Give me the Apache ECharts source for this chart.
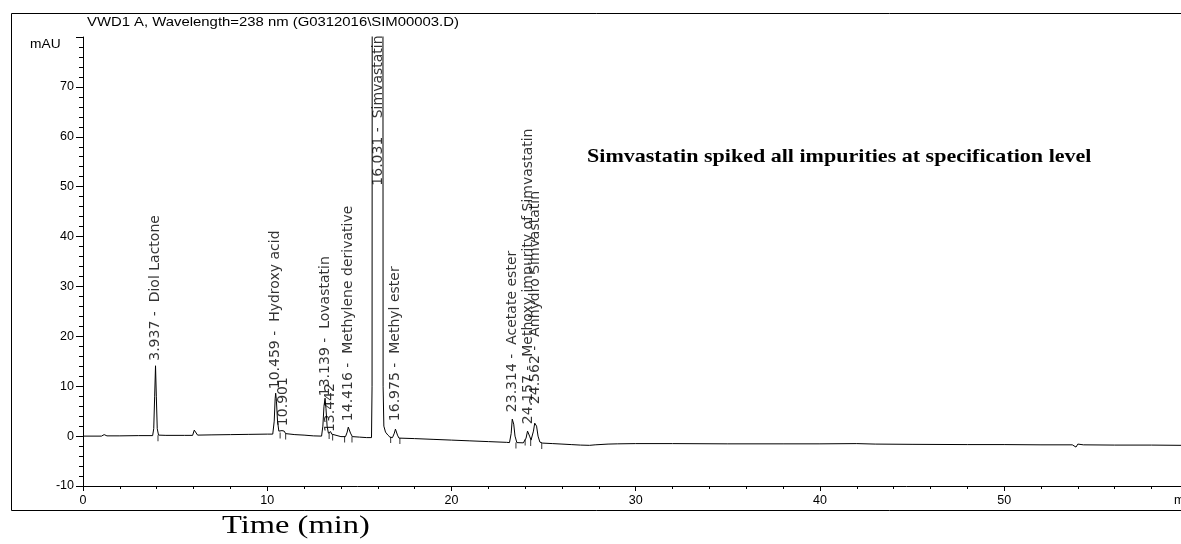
<!DOCTYPE html>
<html><head><meta charset="utf-8">
<script src="https://cdn.jsdelivr.net/npm/echarts@6/dist/echarts.min.js"></script>
<style>html,body{margin:0;padding:0;background:#fff}#c{width:1181px;height:544px}</style>
</head><body><div id="c"></div>
<script>
// Chromatogram trace: [time (min), signal (mAU)]
const trace = [
  [0,0.0],[1.0,0.0],[1.15,0.3],[1.3,0.05],[2,0.05],[3,0.1],[3.78,0.1],
  [3.84,1.5],[3.89,8],[3.937,14.1],[3.98,8],[4.03,1.5],[4.10,0.2],[4.5,0.15],
  [5.5,0.15],[5.95,0.15],[6.04,1.2],[6.08,1.6],[6.13,0.8],[6.22,0.2],
  [7,0.25],[8,0.3],[9,0.35],[10,0.4],[10.30,0.4],
  [10.38,3],[10.43,7.5],[10.459,8.6],[10.50,7],[10.56,3],[10.63,1.0],[10.70,0.7],
  [10.80,1.1],[10.86,1.2],[10.92,1.0],[11.0,0.5],[11.1,0.35],
  [11.5,0.3],[12,0.2],[12.5,0.05],[12.95,0.0],
  [13.02,2],[13.08,6],[13.139,7.6],[13.19,5.5],[13.25,2],[13.32,0.6],[13.40,0.8],
  [13.44,0.9],[13.5,0.4],[13.6,0.0],[14.0,-0.1],[14.25,-0.1],
  [14.34,0.8],[14.40,1.8],[14.45,1.6],[14.52,0.6],[14.62,-0.1],
  [15.0,-0.2],[15.4,-0.3],[15.66,-0.3],[15.69,10],[15.70,100],[16.0,300],
  [16.28,100],[16.29,10],[16.33,2],[16.42,0.8],[16.55,0.2],[16.66,-0.2],
  [16.80,-0.3],[16.90,0.6],[16.96,1.4],[17.0,1.2],[17.07,0.2],[17.15,-0.4],
  [18,-0.5],[19,-0.65],[20,-0.8],[21,-0.95],[22,-1.1],[23,-1.25],[23.15,-1.3],
  [23.24,0.5],[23.30,3.4],[23.33,3.6],[23.38,2.4],[23.45,0],[23.55,-1.3],[23.9,-1.35],
  [24.05,-0.4],[24.13,1.0],[24.17,1.2],[24.24,0.0],[24.32,-0.8],
  [24.45,1.0],[24.52,2.6],[24.562,3.0],[24.62,2.0],[24.70,0],[24.80,-1.2],[24.95,-1.4],
  [25.5,-1.5],[26,-1.6],[26.5,-1.7],[27,-1.8],[27.5,-1.85],[27.8,-1.75],[28.5,-1.6],
  [29,-1.55],[30,-1.5],[32,-1.5],[35,-1.55],[38,-1.55],[40,-1.55],[42,-1.5],[43,-1.6],
  [45,-1.65],[48,-1.7],[50,-1.7],[52,-1.75],[53.7,-1.75],[53.9,-2.2],[54.0,-1.6],
  [54.3,-1.75],[56,-1.8],[58,-1.8],[59.6,-1.85]
];
// Peak annotations
const peakNames = [
  '3.937 -  Diol Lactone','10.459 -  Hydroxy acid','10.901','13.139 -  Lovastatin','13.442',
  '14.416 -  Methylene derivative','16.031 -  Simvastatin','16.975 -  Methyl ester',
  '23.314 -  Acetate ester','24.157 -  Methoxy impurity of Simvastatin','24.562 -  Anhydro Simvastatin'
];
const peakTimes = [3.937,10.459,10.901,13.139,13.442,14.416,16.031,16.975,23.314,24.157,24.562];
const labelBase = [14.9,9.2,1.8,7.8,0.6,2.8,50,2.8,4.6,2.2,6.2];
// Integration boundary marks
const markTimes = [4.07,10.7,11.0,13.36,13.55,14.2,14.6,16.7,17.2,23.5,24.0,24.3,24.9];
const markLevels = [0.15,0.7,0.5,0.6,0.3,-0.1,-0.1,-0.2,-0.4,-1.3,-0.7,-0.8,-1.4];
const xTickValues = [0,10,20,30,40,50];
const yTickValues = [-10,0,10,20,30,40,50,60,70];

const chart = echarts.init(document.getElementById('c'));
chart.setOption({
  animation:false,
  backgroundColor:'#fff',
  grid:{left:83,top:37,right:0,bottom:58,containLabel:false},
  xAxis:{type:'value',min:0,max:59.6,interval:10,
    axisLine:{onZero:false,lineStyle:{color:'#000',width:1}},
    axisTick:{length:5,lineStyle:{color:'#000'}},
    minorTick:{show:true,splitNumber:5,length:3,lineStyle:{color:'#000'}},
    splitLine:{show:false},
    axisLabel:{color:'#000',fontFamily:'Liberation Sans, Arial',fontSize:12.5,margin:8,
      showMaxLabel:false,
      formatter:v=>xTickValues.indexOf(v)>=0?String(v):''}
  },
  yAxis:{type:'value',min:-10,max:80,interval:10,
    axisLine:{show:true,onZero:false,lineStyle:{color:'#000',width:1}},
    axisTick:{show:true,length:7,lineStyle:{color:'#000'}},
    minorTick:{show:true,splitNumber:5,length:4,lineStyle:{color:'#000'}},
    splitLine:{show:false},
    axisLabel:{color:'#000',fontFamily:'Liberation Sans, Arial',fontSize:12.5,margin:9,
      formatter:v=>yTickValues.indexOf(v)>=0?String(v):''}
  },
  series:[
    {type:'line',data:trace,showSymbol:false,symbol:'none',clip:true,
     lineStyle:{color:'#000',width:1},z:3},
    {type:'scatter',data:markTimes.map((t,i)=>[t,markLevels[i]]),symbol:'rect',
     symbolSize:[1,6],symbolOffset:[0,3],itemStyle:{color:'#000'},z:3},
    {type:'scatter',data:peakTimes.map((t,i)=>({value:[t,labelBase[i]],name:peakNames[i]})),
     symbolSize:0,z:4,
     label:{show:true,formatter:p=>p.name,position:'top',distance:1,rotate:90,
       align:'left',verticalAlign:'middle',color:'#000',
       fontFamily:'DejaVu Sans',fontSize:14}}
  ],
  graphic:[
    {type:'rect',shape:{x:11.5,y:13.5,width:1200,height:497},
     style:{fill:null,stroke:'#000',lineWidth:1},silent:true},
    {type:'text',x:87,y:16,scaleX:1.19,style:{text:'VWD1 A, Wavelength=238 nm (G0312016\\SIM00003.D)',
      fill:'#000',font:'12.5px "Liberation Sans", Arial'}},
    {type:'text',x:30,y:38,scaleX:1.1,style:{text:'mAU',fill:'#000',font:'12.5px "Liberation Sans", Arial'}},
    {type:'text',x:1174,y:494,style:{text:'min',fill:'#000',font:'12.5px "Liberation Sans", Arial'}},
    {type:'text',x:587,y:148,scaleX:1.16,style:{text:'Simvastatin spiked all impurities at specification level',
      fill:'#000',font:'bold 19px "Liberation Serif", "Times New Roman"'}},
    {type:'text',x:222,y:513,scaleX:1.25,style:{text:'Time (min)',fill:'#000',font:'26px "Liberation Serif", "Times New Roman"'}}
  ]
});
</script></body></html>
